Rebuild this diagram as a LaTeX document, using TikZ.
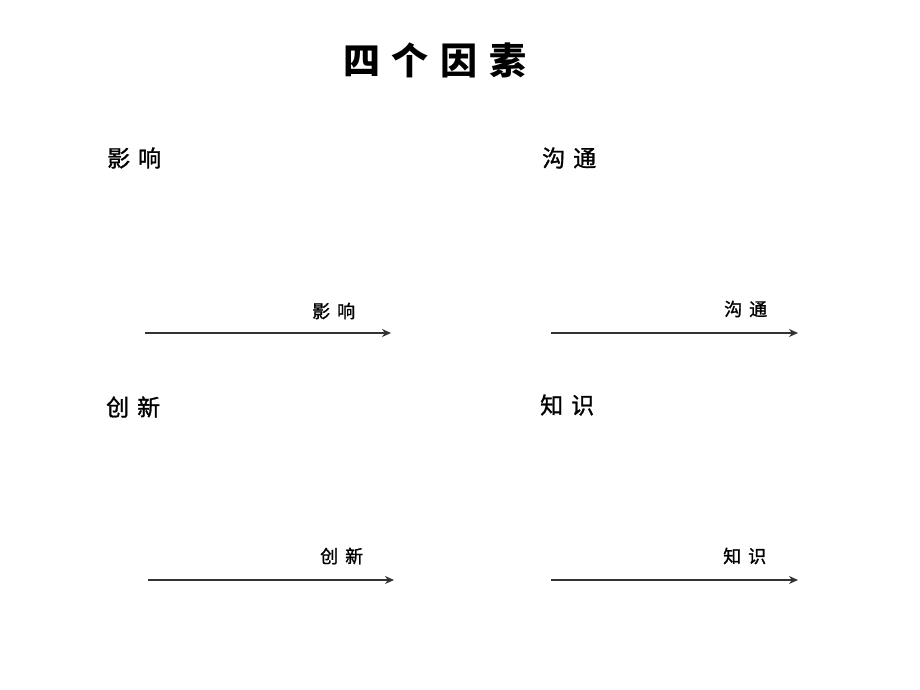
\documentclass[tikz,border=0pt]{standalone}
\usepackage{fontspec}
\newfontfamily\cjk{Noto Sans CJK SC}
\newfontfamily\cjkm{Noto Sans CJK SC}[FakeBold=1.2]
\usetikzlibrary{arrows.meta}
\begin{document}
\begin{tikzpicture}[x=1pt,y=-1pt,
  title/.style={font=\cjk\fontsize{37}{37}\selectfont\bfseries, inner sep=0pt},
  head/.style={font=\cjkm\fontsize{23}{23}\selectfont, inner sep=0pt, anchor=west},
  lab/.style={font=\cjkm\fontsize{18}{18}\selectfont, inner sep=0pt, anchor=west},
  arr/.style={draw=black!80, line width=2.3pt, -{Stealth[length=9pt,width=8pt]}}]
\useasboundingbox[fill=white] (0,0) rectangle (920,690);
\node[title] (t) at (435,60) {四\hspace{12pt}个\hspace{12pt}因\hspace{12pt}素};
\node[head] (h1) at (107,158) {影\hspace{8pt}响};
\node[head] (h2) at (542,158) {沟\hspace{8pt}通};
\node[head] (h3) at (106,407) {创\hspace{8pt}新};
\node[head] (h4) at (540,405) {知\hspace{8pt}识};
\coordinate (a1s) at (145,333); \coordinate (a1e) at (391,333);
\coordinate (a2s) at (551,333); \coordinate (a2e) at (798,333);
\coordinate (a3s) at (148,580); \coordinate (a3e) at (394,580);
\coordinate (a4s) at (551,580); \coordinate (a4e) at (798,580);
\draw[arr] (a1s) -- (a1e);
\draw[arr] (a2s) -- (a2e);
\draw[arr] (a3s) -- (a3e);
\draw[arr] (a4s) -- (a4e);
\node[lab] (l1) at (312,311) {影\hspace{7pt}响};
\node[lab] (l2) at (724,309) {沟\hspace{7pt}通};
\node[lab] (l3) at (320,556) {创\hspace{7pt}新};
\node[lab] (l4) at (723,556) {知\hspace{7pt}识};
\end{tikzpicture}
\end{document}
